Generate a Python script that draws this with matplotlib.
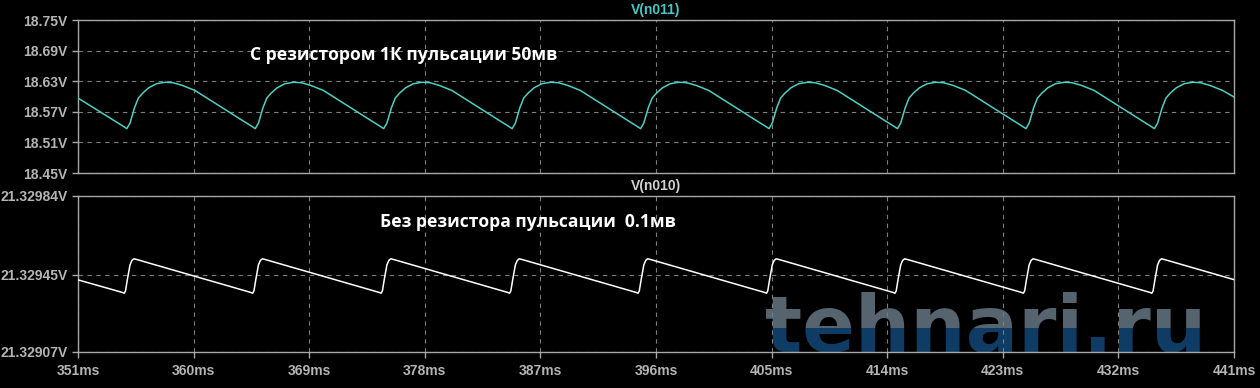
import matplotlib.pyplot as plt
import matplotlib.transforms as mtransforms

# V(n011) - с резистором 1К (время в мс, напряжение в В)
top_t = [351.0, 353.8, 354.5, 354.8, 355.05, 355.4, 355.7, 356.05, 356.5, 357.1, 357.8, 358.4, 359.1, 360.1, 361.6, 363.1,
         363.8, 364.5, 364.8, 365.05, 365.4, 365.7, 366.05, 366.5, 367.1, 367.8, 368.4, 369.1, 370.1, 371.6, 373.1,
         373.8, 374.5, 374.8, 375.05, 375.4, 375.7, 376.05, 376.5, 377.1, 377.8, 378.4, 379.1, 380.1, 381.6, 383.1,
         383.8, 384.5, 384.8, 385.05, 385.4, 385.7, 386.05, 386.5, 387.1, 387.8, 388.4, 389.1, 390.1, 391.6, 393.1,
         393.8, 394.5, 394.8, 395.05, 395.4, 395.7, 396.05, 396.5, 397.1, 397.8, 398.4, 399.1, 400.1, 401.6, 403.1,
         403.8, 404.5, 404.8, 405.05, 405.4, 405.7, 406.05, 406.5, 407.1, 407.8, 408.4, 409.1, 410.1, 411.6, 413.1,
         413.8, 414.5, 414.8, 415.05, 415.4, 415.7, 416.05, 416.5, 417.1, 417.8, 418.4, 419.1, 420.1, 421.6, 423.1,
         423.8, 424.5, 424.8, 425.05, 425.4, 425.7, 426.05, 426.5, 427.1, 427.8, 428.4, 429.1, 430.1, 431.6, 433.1,
         433.8, 434.5, 434.8, 435.05, 435.4, 435.7, 436.05, 436.5, 437.1, 437.8, 438.4, 439.1, 440.1, 441.0]
top_v = [18.597, 18.553, 18.542, 18.537, 18.548, 18.578, 18.597, 18.607, 18.617, 18.625, 18.628, 18.627, 18.622, 18.612, 18.588, 18.564,
         18.553, 18.542, 18.537, 18.548, 18.578, 18.597, 18.607, 18.617, 18.625, 18.628, 18.627, 18.622, 18.612, 18.588, 18.564,
         18.553, 18.542, 18.537, 18.548, 18.578, 18.597, 18.607, 18.617, 18.625, 18.628, 18.627, 18.622, 18.612, 18.588, 18.564,
         18.553, 18.542, 18.537, 18.548, 18.578, 18.597, 18.607, 18.617, 18.625, 18.628, 18.627, 18.622, 18.612, 18.588, 18.564,
         18.553, 18.542, 18.537, 18.548, 18.578, 18.597, 18.607, 18.617, 18.625, 18.628, 18.627, 18.622, 18.612, 18.588, 18.564,
         18.553, 18.542, 18.537, 18.548, 18.578, 18.597, 18.607, 18.617, 18.625, 18.628, 18.627, 18.622, 18.612, 18.588, 18.564,
         18.553, 18.542, 18.537, 18.548, 18.578, 18.597, 18.607, 18.617, 18.625, 18.628, 18.627, 18.622, 18.612, 18.588, 18.564,
         18.553, 18.542, 18.537, 18.548, 18.578, 18.597, 18.607, 18.617, 18.625, 18.628, 18.627, 18.622, 18.612, 18.588, 18.564,
         18.553, 18.542, 18.537, 18.548, 18.578, 18.597, 18.607, 18.617, 18.625, 18.628, 18.627, 18.622, 18.612, 18.599]

# V(n010) - без резистора
bot_t = [351.0,
         354.45, 354.6, 354.7, 354.85, 355.05, 355.2, 355.35, 355.6,
         364.45, 364.6, 364.7, 364.85, 365.05, 365.2, 365.35, 365.6,
         374.45, 374.6, 374.7, 374.85, 375.05, 375.2, 375.35, 375.6,
         384.45, 384.6, 384.7, 384.85, 385.05, 385.2, 385.35, 385.6,
         394.45, 394.6, 394.7, 394.85, 395.05, 395.2, 395.35, 395.6,
         404.45, 404.6, 404.7, 404.85, 405.05, 405.2, 405.35, 405.6,
         414.45, 414.6, 414.7, 414.85, 415.05, 415.2, 415.35, 415.6,
         424.45, 424.6, 424.7, 424.85, 425.05, 425.2, 425.35, 425.6,
         434.45, 434.6, 434.7, 434.85, 435.05, 435.2, 435.35, 435.6,
         441.0]
bot_v = [21.329426,
         21.329364, 21.329360, 21.329372, 21.329430, 21.329500, 21.329522, 21.329530, 21.329526,
         21.329364, 21.329360, 21.329372, 21.329430, 21.329500, 21.329522, 21.329530, 21.329526,
         21.329364, 21.329360, 21.329372, 21.329430, 21.329500, 21.329522, 21.329530, 21.329526,
         21.329364, 21.329360, 21.329372, 21.329430, 21.329500, 21.329522, 21.329530, 21.329526,
         21.329364, 21.329360, 21.329372, 21.329430, 21.329500, 21.329522, 21.329530, 21.329526,
         21.329364, 21.329360, 21.329372, 21.329430, 21.329500, 21.329522, 21.329530, 21.329526,
         21.329364, 21.329360, 21.329372, 21.329430, 21.329500, 21.329522, 21.329530, 21.329526,
         21.329364, 21.329360, 21.329372, 21.329430, 21.329500, 21.329522, 21.329530, 21.329526,
         21.329364, 21.329360, 21.329372, 21.329430, 21.329500, 21.329522, 21.329530, 21.329526,
         21.329427]

x_ticks = [351, 360, 369, 378, 387, 396, 405, 414, 423, 432, 441]
top_ticks = [18.45, 18.51, 18.57, 18.63, 18.69, 18.75]
top_labels = ["18.45V", "18.51V", "18.57V", "18.63V", "18.69V", "18.75V"]
bot_ticks = [21.32907, 21.32945, 21.32984]
bot_labels = ["21.32907V", "21.32945V", "21.32984V"]

bg = "black"
frame = "#a8a8a8"
tick_col = "#b4b4b4"
grid_col = "#7c7c7c"

fig = plt.figure(figsize=(12.6, 3.88), dpi=100, facecolor=bg)
ax1 = fig.add_axes([0.0619, 0.5541, 0.9175, 0.3943])
ax2 = fig.add_axes([0.0619, 0.0928, 0.9175, 0.4021])

for ax, ticks, labels in [(ax1, top_ticks, top_labels), (ax2, bot_ticks, bot_labels)]:
    ax.set_facecolor(bg)
    ax.set_xlim(351, 441)
    ax.set_ylim(ticks[0], ticks[-1])
    ax.set_xticks(x_ticks)
    ax.set_yticks(ticks)
    ax.set_yticklabels(labels)
    for s in ax.spines.values():
        s.set_color(frame)
        s.set_linewidth(1.0)
    ax.tick_params(colors=frame, length=4, width=1)
    for lab in ax.get_yticklabels():
        lab.set_color(tick_col)
        lab.set_fontfamily("Liberation Sans")
        lab.set_fontweight("bold")
        lab.set_fontsize(10)
    ax.grid(True, color=grid_col, linestyle=(0, (4, 4)), linewidth=0.8)

ax1.set_xticklabels([])
ax1.tick_params(axis="x", length=0)
ax2.tick_params(axis="x", pad=5)
ax2.set_xticklabels([f"{t}ms" for t in x_ticks])
for lab in ax2.get_xticklabels():
    lab.set_color(tick_col)
    lab.set_fontfamily("Liberation Sans")
    lab.set_fontweight("bold")
    lab.set_fontsize(10)

ax1.plot(top_t, top_v, color="#4ccfc4", linewidth=1.1, zorder=3)
ax2.plot(bot_t, bot_v, color="white", linewidth=1.1, zorder=3)

ax1.set_title("V(n011)", color="#3fc9c9", fontsize=10, fontweight="bold",
              fontfamily="Liberation Sans", pad=4)
ax2.set_title("V(n010)", color="#d0d0d0", fontsize=10, fontweight="bold",
              fontfamily="Liberation Sans", pad=4)

ax1.text(0.149, 0.771, "С резистором 1К пульсации 50мв", transform=ax1.transAxes,
         color="white", fontsize=12.6, fontweight="bold", family=["Open Sans", "DejaVu Sans"],
         va="center", ha="left", zorder=4)
ax2.text(0.261, 0.833, "Без резистора пульсации  0.1мв", transform=ax2.transAxes,
         color="white", fontsize=12.6, fontweight="bold", family=["Open Sans", "DejaVu Sans"],
         va="center", ha="left", zorder=4)

# водяной знак: верх серый, низ синий (граница на 328 px сверху)
lower = mtransforms.Bbox.from_extents(0, 0, 1260, 388 - 328)
upper = mtransforms.Bbox.from_extents(0, 388 - 328, 1260, 388)
for col, box in [("#55646f", upper), ("#0f3c64", lower)]:
    wm = ax2.text(0.594, 0.0, "tehnari.ru", transform=ax2.transAxes, color=col,
                  fontsize=56, fontweight="heavy", family="DejaVu Sans",
                  ha="left", va="baseline", zorder=0.1)
    wm.set_clip_on(True)
    wm.set_clip_path(None)
    wm.set_clip_box(mtransforms.TransformedBbox(box, mtransforms.IdentityTransform()))

fig.savefig("out.png", dpi=100, facecolor=bg)
